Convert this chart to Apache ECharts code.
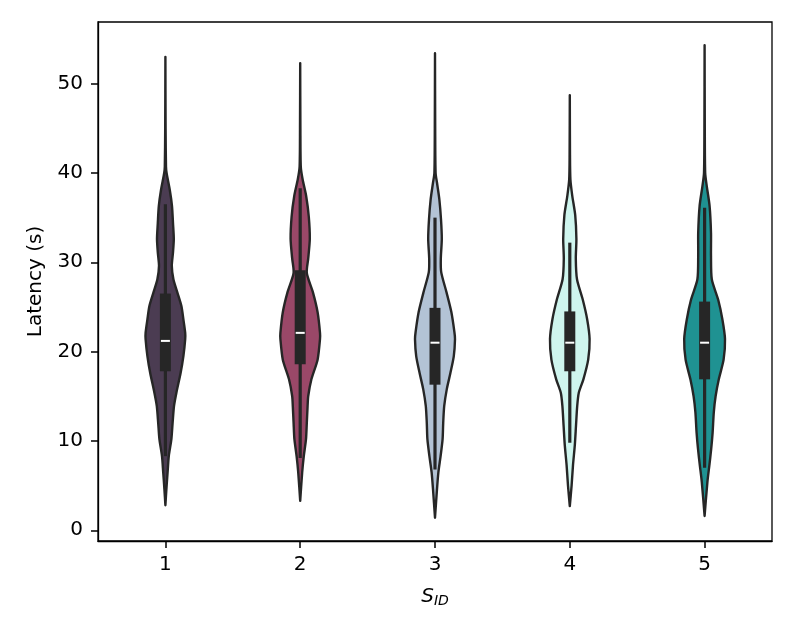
<!DOCTYPE html>
<html>
<head>
<meta charset="utf-8">
<script src="https://cdn.jsdelivr.net/npm/echarts@6/dist/echarts.min.js"></script>
<style>
html,body{margin:0;padding:0;background:#fff;}
#chart{width:797px;height:638px;}
</style>
</head>
<body>
<div id="chart"></div>
<script>
// ---- data ----
const categories = ['1', '2', '3', '4', '5'];
const yTicks = [0, 10, 20, 30, 40, 50];

// violin density profiles: latency values and relative half-widths
const v1Y = [2.8, 4.6, 6.5, 8.3, 10.2, 12.0, 13.9, 15.4, 17.6, 19.5, 21.4, 22.1, 23.6, 25.1, 26.6, 28.1, 29.6, 31.1, 32.6, 34.4, 36.3, 38.1, 40.0, 40.7, 45.0, 53.0];
const v1W = [0, 0.05, 0.11, 0.17, 0.30, 0.36, 0.43, 0.55, 0.76, 0.90, 0.99, 0.99, 0.90, 0.80, 0.60, 0.40, 0.32, 0.38, 0.42, 0.38, 0.33, 0.22, 0.06, 0.03, 0.01, 0];
const v2Y = [3.3, 6.5, 8.3, 10.2, 12.0, 13.9, 15.0, 16.9, 19.1, 21.4, 22.1, 24.4, 26.6, 28.8, 30.4, 32.6, 35.1, 37.4, 39.3, 40.7, 45.0, 52.3];
const v2W = [0, 0.10, 0.18, 0.29, 0.33, 0.37, 0.40, 0.56, 0.87, 0.99, 0.99, 0.87, 0.64, 0.33, 0.40, 0.48, 0.43, 0.30, 0.12, 0.03, 0.01, 0];
const v3Y = [1.4, 4.6, 6.5, 8.3, 10.2, 12.0, 13.9, 15.8, 17.6, 19.5, 21.4, 22.2, 24.4, 26.6, 28.9, 30.4, 32.6, 34.8, 37.0, 38.9, 40.0, 45.0, 53.4];
const v3W = [0, 0.10, 0.17, 0.28, 0.38, 0.41, 0.46, 0.59, 0.77, 0.94, 1.00, 0.97, 0.82, 0.58, 0.31, 0.29, 0.34, 0.30, 0.22, 0.10, 0.03, 0.01, 0];
const v4Y = [2.7, 5.0, 7.3, 9.5, 11.7, 13.9, 15.4, 16.9, 19.1, 21.4, 23.6, 25.8, 28.1, 30.4, 32.6, 35.3, 37.5, 39.3, 42.0, 48.7];
const v4W = [0, 0.09, 0.16, 0.25, 0.31, 0.37, 0.45, 0.68, 0.92, 0.99, 0.87, 0.65, 0.36, 0.30, 0.33, 0.27, 0.12, 0.03, 0.01, 0];
const v5Y = [1.6, 5.4, 7.3, 9.1, 10.9, 13.2, 15.0, 16.9, 19.1, 21.4, 23.6, 25.8, 28.1, 30.7, 33.3, 36.3, 38.5, 40.0, 45.0, 54.3];
const v5W = [0, 0.14, 0.24, 0.33, 0.40, 0.46, 0.55, 0.71, 0.95, 1.02, 0.89, 0.68, 0.36, 0.32, 0.32, 0.25, 0.11, 0.03, 0.01, 0];

// inner box statistics
const whiskerLow  = [8.3, 8.1, 6.8, 9.8, 7.0];
const q1          = [17.8, 18.6, 16.3, 17.8, 16.9];
const median      = [21.2, 22.1, 21.0, 21.0, 21.0];
const q3          = [26.5, 29.1, 24.9, 24.5, 25.6];
const whiskerHigh = [36.5, 38.3, 35.0, 32.2, 36.1];

const colors = ['#4b3c52', '#9a4868', '#b3c3d5', '#cff5ee', '#1f9292'];
const violinY = [v1Y, v2Y, v3Y, v4Y, v5Y];
const violinW = [v1W, v2W, v3W, v4W, v5W];

const OUTLINE = '#262626';
const FONT = 'DejaVu Sans';

function violinSeries(idx) {
  return {
    type: 'custom',
    coordinateSystem: 'cartesian2d',
    data: [[idx, median[idx]]],
    z: 2,
    renderItem: function (params, api) {
      const ys = violinY[idx], ws = violinW[idx];
      const maxHalf = 20; // px for relative width 1
      const right = [], left = [];
      for (let i = 0; i < ys.length; i++) {
        const p = api.coord([idx, ys[i]]);
        right.push([p[0] + ws[i] * maxHalf, p[1]]);
        left.push([p[0] - ws[i] * maxHalf, p[1]]);
      }
      const pts = right.concat(left.reverse());
      const c = api.coord([idx, 0])[0];
      const yl = api.coord([idx, whiskerLow[idx]])[1];
      const yh = api.coord([idx, whiskerHigh[idx]])[1];
      const y1 = api.coord([idx, q1[idx]])[1];
      const y3 = api.coord([idx, q3[idx]])[1];
      const ym = api.coord([idx, median[idx]])[1];
      return {
        type: 'group',
        children: [
          { type: 'polygon', shape: { points: pts, smooth: 0.25 },
            style: { fill: colors[idx], stroke: OUTLINE, lineWidth: 2.4, lineJoin: 'round' } },
          { type: 'rect', shape: { x: c - 1.6, y: yh, width: 3.2, height: yl - yh },
            style: { fill: OUTLINE } },
          { type: 'rect', shape: { x: c - 5.5, y: y3, width: 11, height: y1 - y3 },
            style: { fill: OUTLINE } },
          { type: 'rect', shape: { x: c - 4.5, y: ym - 1, width: 9, height: 2 },
            style: { fill: '#ffffff' } }
        ]
      };
    }
  };
}

const chart = echarts.init(document.getElementById('chart'), null, { renderer: 'canvas' });
chart.setOption({
  animation: false,
  backgroundColor: '#ffffff',
  grid: {
    left: 98, right: 25, top: 22, bottom: 97,
    show: true, borderColor: '#000', borderWidth: 1.3, backgroundColor: 'transparent'
  },
  xAxis: {
    type: 'category',
    data: categories,
    boundaryGap: true,
    axisLine: { show: true, onZero: false, lineStyle: { color: '#000', width: 1.3 } },
    axisTick: { show: true, alignWithLabel: true, length: 7, lineStyle: { color: '#000', width: 1.5 } },
    axisLabel: { color: '#000', fontSize: 20, fontFamily: FONT, margin: 14 },
    splitLine: { show: false },
    name: '{s|S}{sub|ID}',
    nameLocation: 'middle',
    nameGap: 44,
    nameTextStyle: {
      rich: {
        s: { fontSize: 20, fontStyle: 'italic', fontFamily: FONT, color: '#000' },
        sub: { fontSize: 14, fontStyle: 'italic', fontFamily: FONT, color: '#000', padding: [9, 0, 0, 0] }
      }
    }
  },
  yAxis: {
    type: 'value',
    min: -1.2,
    max: 56.9,
    axisLine: { show: true, onZero: false, lineStyle: { color: '#000', width: 1.3 } },
    axisTick: { show: true, length: 7, lineStyle: { color: '#000', width: 1.5 }, customValues: yTicks },
    axisLabel: { color: '#000', fontSize: 20, fontFamily: FONT, margin: 15, customValues: yTicks },
    splitLine: { show: false },
    name: 'Latency (s)',
    nameLocation: 'middle',
    nameRotate: 90,
    nameGap: 52,
    nameTextStyle: { color: '#000', fontSize: 20, fontFamily: FONT }
  },
  series: categories.map((c, i) => violinSeries(i))
});
</script>
</body>
</html>
